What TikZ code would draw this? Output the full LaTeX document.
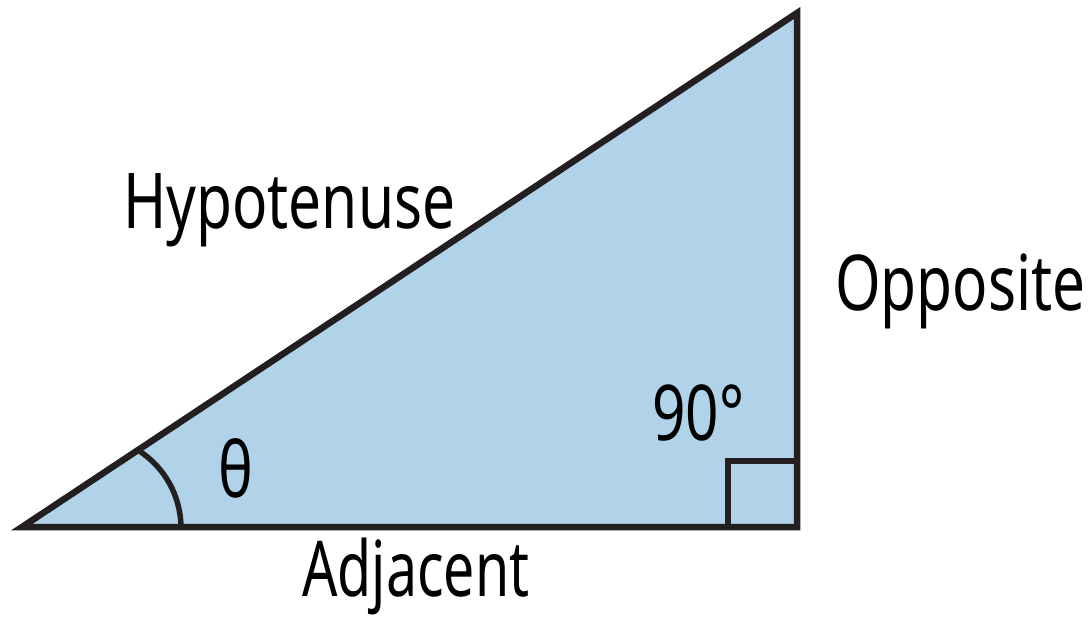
\documentclass[tikz,border=0pt]{standalone}
\usepackage{fontspec}
\newfontfamily\labfont[FakeStretch=0.76]{Noto Sans}
\newfontfamily\adjfont[FakeStretch=0.72]{Noto Sans}
\definecolor{trifill}{RGB}{177,211,234}
\definecolor{ink}{RGB}{35,31,32}
\begin{document}
\begin{tikzpicture}[x=1pt,y=-1pt,
  lab/.style={inner sep=0pt,anchor=base west,font=\labfont\fontsize{77}{80}\selectfont,text=black},
  edge/.style={draw=ink,line width=6.5pt,line join=miter}]
\useasboundingbox (0,0) rectangle (1090,618);
\coordinate (A) at (22,527);
\coordinate (B) at (797,527);
\coordinate (C) at (797,13);
\fill[trifill] (A) -- (B) -- (C) -- cycle;
\draw[draw=ink,line width=5.5pt] (181,528) arc[start angle=0,end angle=-58,radius=92];
\coordinate (S1) at (728,527);
\coordinate (S2) at (728,461);
\coordinate (S3) at (797,461);
\draw[edge] (S1) -- (S2) -- (S3);
\draw[edge] (A) -- (B) -- (C) -- cycle;
\node[lab] (hyp) at (123,228) {Hypotenuse};
\node[lab] (opp) at (835,310) {Opposite};
\node[lab,font=\adjfont\fontsize{77}{80}\selectfont] (adj) at (302,596) {Adjacent};
\node[lab] (deg) at (652,440) {90°};
\node[lab] (th) at (218,497) {θ};
\end{tikzpicture}
\end{document}
